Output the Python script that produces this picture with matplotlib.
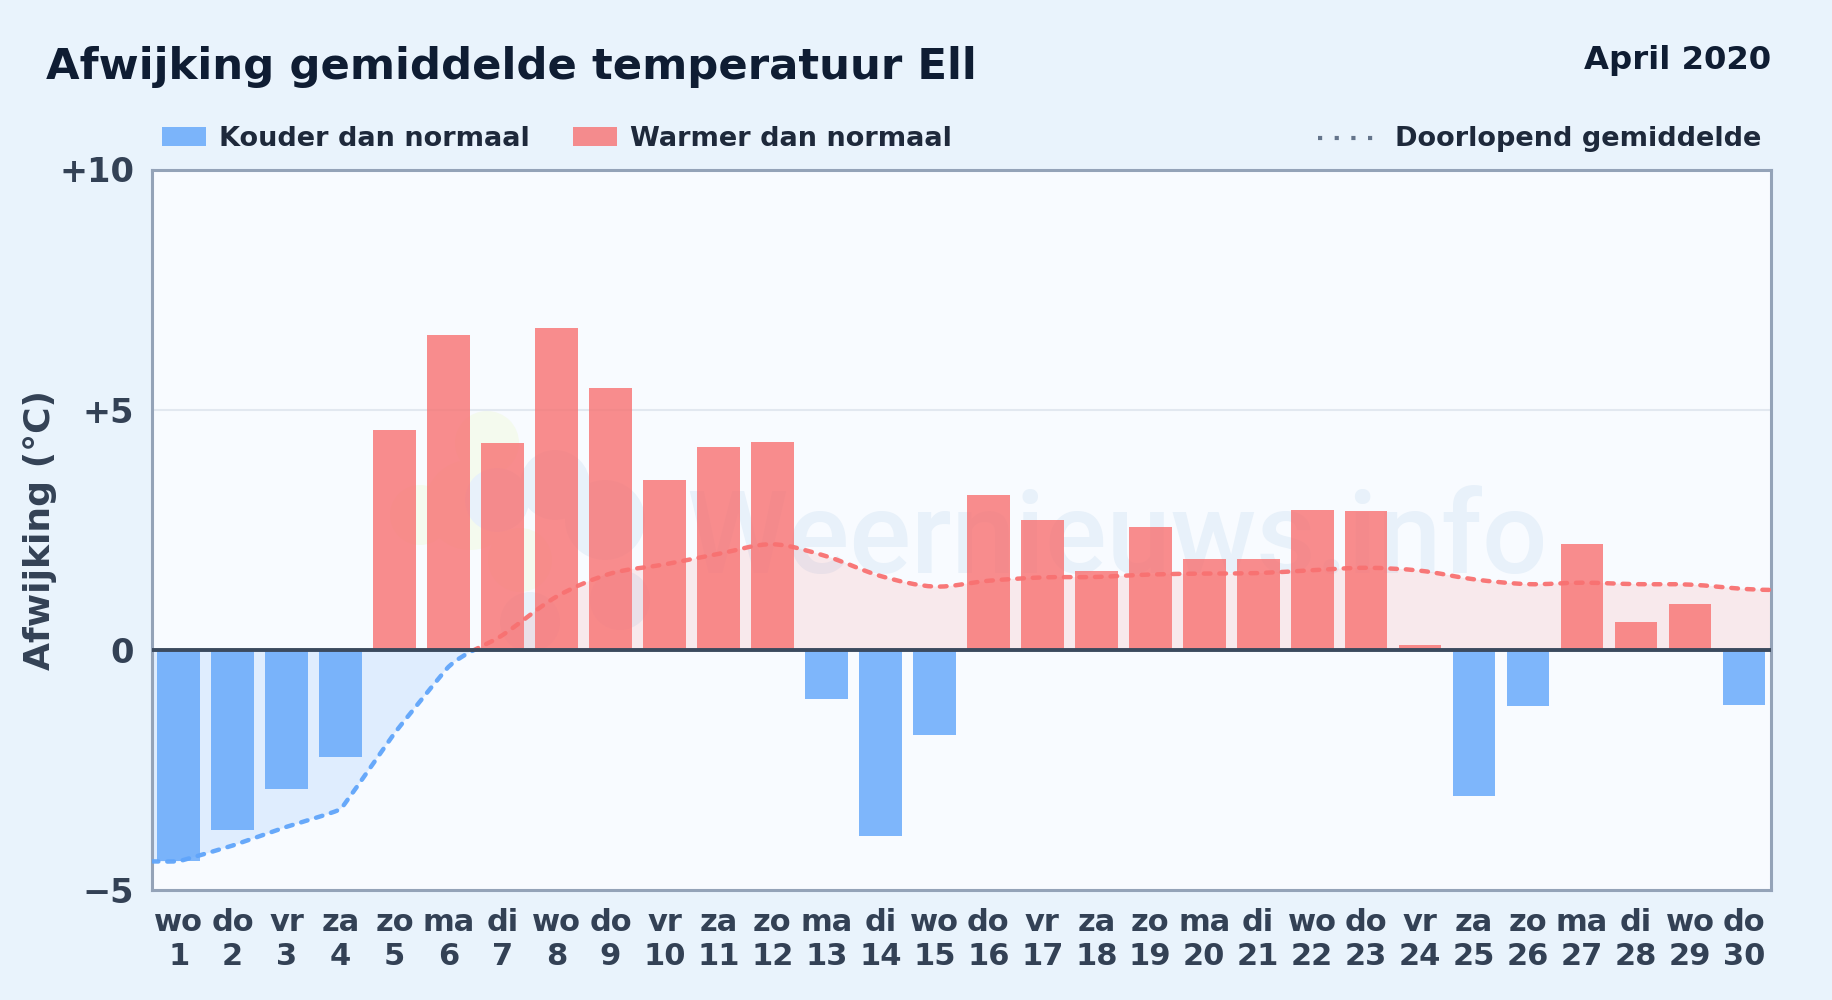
import numpy as np
import matplotlib
matplotlib.use('Agg')
import matplotlib.pyplot as plt
from matplotlib.patches import PathPatch, Rectangle, Circle
from matplotlib.path import Path
from matplotlib.lines import Line2D
from matplotlib.transforms import IdentityTransform

weekdays = ['wo', 'do', 'vr', 'za', 'zo', 'ma', 'di'] * 4 + ['wo', 'do']
days = list(range(1, 31))
deviation = [-4.40, -3.74, -2.90, -2.22, 4.57, 6.56, 4.30, 6.70, 5.45, 3.53,
             4.23, 4.32, -1.02, -3.87, -1.78, 3.23, 2.70, 1.65, 2.55, 1.90,
             1.90, 2.92, 2.89, 0.10, -3.04, -1.17, 2.21, 0.58, 0.95, -1.14]
running_mean = [-4.40, -4.07, -3.68, -3.31, -1.73, -0.35, 0.31, 1.11, 1.59, 1.78,
                2.00, 2.20, 1.95, 1.54, 1.32, 1.44, 1.51, 1.52, 1.57, 1.59,
                1.60, 1.66, 1.71, 1.65, 1.47, 1.37, 1.40, 1.37, 1.36, 1.27]
yticks = [-5, 0, 5, 10]
ytick_labels = ['\u22125', '0', '+5', '+10']

BLUE = '#60a5fa'
RED = '#f87171'
TEXT = '#334155'
DARK = '#1e293b'

plt.rcParams['font.family'] = 'DejaVu Sans'
plt.rcParams['font.weight'] = 'bold'

W, H = 1832, 1000
fig = plt.figure(figsize=(W / 100, H / 100), dpi=100, facecolor='#e9f3fc')
ax = fig.add_axes([151.7 / W, 1 - 890.2 / H, (1771 - 151.7) / W, (890.2 - 169.5) / H])
ax.set_facecolor('#f8fbff')
ax.set_xlim(0.5, 30.5)
ax.set_ylim(-5, 10)

# watermark behind everything
ax.text(10.4, 1.6, 'Weernieuws.info', fontsize=83, weight=500, family='Roboto',
        color='#e8f1fa', va='baseline', ha='left', zorder=0.5)
logo = [(487, 443, 32, '#f4faee'), (470, 505, 45, '#f4faee'), (420, 515, 30, '#f4faee'),
        (520, 560, 32, '#f4faee'), (497, 500, 32, '#e8f1fa'), (555, 485, 35, '#e8f1fa'),
        (605, 520, 40, '#e8f1fa'), (530, 622, 30, '#e8f1fa'), (620, 600, 30, '#e8f1fa')]
for cx, cy, r, col in logo:
    c = Circle((cx, H - cy), r, transform=IdentityTransform(), fc=col, ec='none', zorder=0.4)
    ax.add_patch(c)

ax.grid(axis='y', color='#e2e8f0', lw=1.5, zorder=1)
ax.set_axisbelow(True)

ax.bar(days, deviation, width=0.79, color=[BLUE if v < 0 else RED for v in deviation],
       alpha=0.8, zorder=3)
ax.axhline(0, color='#3b4a5e', lw=2.8, zorder=5)

# smooth curve through the running mean, running out to the plot edges
xs = np.array([0.5] + days + [30.5], dtype=float)
ys = np.array([running_mean[0]] + running_mean + [running_mean[-1] - 0.02], dtype=float)
verts = [(xs[0], ys[0])]
codes = [Path.MOVETO]
for i in range(len(xs) - 1):
    # the cold start of the month is nearly straight, the rest rounder
    tension = 0.03 if i < 6 else 0.16
    p0 = max(i - 1, 0)
    p3 = min(i + 2, len(xs) - 1)
    verts.append((xs[i] + (xs[i + 1] - xs[p0]) * tension, ys[i] + (ys[i + 1] - ys[p0]) * tension))
    verts.append((xs[i + 1] - (xs[p3] - xs[i]) * tension, ys[i + 1] - (ys[p3] - ys[i]) * tension))
    verts.append((xs[i + 1], ys[i + 1]))
    codes += [Path.CURVE4] * 3
line_path = Path(verts, codes)
fill_path = Path(verts + [(xs[-1], 0), (xs[0], 0), (xs[0], ys[0])],
                 codes + [Path.LINETO, Path.LINETO, Path.CLOSEPOLY])

for color, fill_alpha, y0, h in [(BLUE, 0.16, -5, 5), (RED, 0.13, 0, 10)]:
    clip = Rectangle((0.5, y0), 30, h, transform=ax.transData)
    fill = PathPatch(fill_path, fc=color, ec='none', alpha=fill_alpha, zorder=2)
    ax.add_patch(fill)
    fill.set_clip_path(clip)
    line = PathPatch(line_path, fc='none', ec=color, lw=3.2, alpha=0.95, zorder=4,
                     linestyle=(0, (1.5, 2.0)), capstyle='round')
    ax.add_patch(line)
    line.set_clip_path(clip)

for s in ax.spines.values():
    s.set_color('#94a3b8')
    s.set_linewidth(2.2)

ax.set_xticks(days)
ax.set_xticklabels([f'{w}\n{d}' for w, d in zip(weekdays, days)], fontsize=22, color=TEXT,
                   linespacing=1.25)
ax.set_yticks(yticks)
ax.set_yticklabels(ytick_labels, fontsize=24.2, color=TEXT)
ax.tick_params(length=0, axis='x', pad=12.5)
ax.tick_params(length=0, axis='y', pad=12.5)

fig.text(23 / W, 1 - 530 / H, 'Afwijking (\u00b0C)', rotation=90, fontsize=26, color=TEXT,
         va='center', ha='left')
fig.text(46 / W, 1 - 67 / H, 'Afwijking gemiddelde temperatuur Ell', fontsize=31.2,
         color='#0f1d33', va='center', ha='left')
fig.text(1771 / W, 1 - 61 / H, 'April 2020', fontsize=23.2, color='#0f1d33', va='center', ha='right')

# legend row
for x, label, color in [(162, 'Kouder dan normaal', BLUE), (573, 'Warmer dan normaal', RED)]:
    fig.add_artist(Rectangle((x / W, 1 - 146 / H), 44 / W, 19 / H, transform=fig.transFigure,
                             fc=color, ec='none', alpha=0.8))
    fig.text((x + 57) / W, 1 - 139 / H, label, fontsize=19.5, color=DARK, va='center', ha='left')
fig.add_artist(Line2D([1318 / W, 1373 / W], [1 - 137.5 / H] * 2, transform=fig.transFigure,
                      color='#64748b', lw=3, linestyle=(0, (1, 3))))
fig.text(1395 / W, 1 - 139 / H, 'Doorlopend gemiddelde', fontsize=19.5, color=DARK, va='center', ha='left')

fig.savefig('out.png', dpi=100, facecolor=fig.get_facecolor())
